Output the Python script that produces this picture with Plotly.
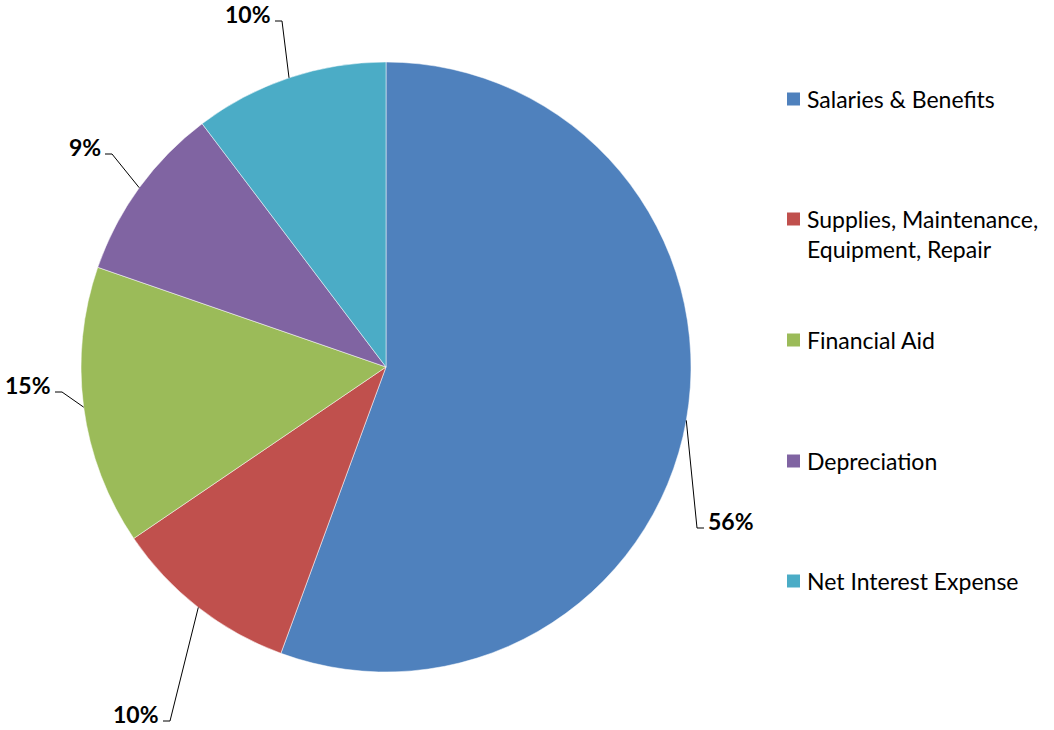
import math
import plotly.graph_objects as go

# ---- data ----
categories = [
    "Salaries & Benefits",
    "Supplies, Maintenance,<br>Equipment, Repair",
    "Financial Aid",
    "Depreciation",
    "Net Interest Expense",
]
values = [55.6, 9.9, 14.8, 9.4, 10.3]
colors = ["#4F81BD", "#C0504D", "#9BBB59", "#8064A2", "#4BACC6"]

# ---- layout constants ----
W, H = 1054, 730
CX, CY, R = 386, 367, 305           # pie centre / radius in pixels
FONT = "Lato"

def px(x):
    return x / W

def py(y):
    return 1 - y / H

fig = go.Figure()
fig.add_trace(go.Pie(
    labels=categories,
    values=values,
    marker=dict(colors=colors, line=dict(color="white", width=0.5)),
    sort=False,
    direction="clockwise",
    rotation=0,
    textinfo="none",
    hoverinfo="label+percent",
    showlegend=False,
    domain=dict(x=[px(CX - R), px(CX + R)], y=[py(CY + R), py(CY - R)]),
))

# ---- data labels with leader lines ----
# elbow point of each leader line (px), and side where the label sits
elbows = [(697, 528, "right"), (170, 721, "left"), (62, 392, "left"),
          (112, 154, "left"), (282, 21, "left")]
tail = 7
total = sum(values)
cum = 0.0
shapes = []
annotations = []
for v, (ex, ey, side) in zip(values, elbows):
    mid = (cum + v / 2) / total * 2 * math.pi
    cum += v
    sx = CX + R * math.sin(mid)
    sy = CY - R * math.cos(mid)
    tx = ex + tail if side == "right" else ex - tail
    shapes.append(dict(
        type="path", xref="paper", yref="paper",
        path=f"M {px(sx)},{py(sy)} L {px(ex)},{py(ey)} L {px(tx)},{py(ey)}",
        line=dict(color="black", width=1),
    ))
    annotations.append(dict(
        x=px(tx + (2 if side == "right" else -2)), y=py(ey - 7),
        xref="paper", yref="paper",
        xanchor="left" if side == "right" else "right", yanchor="middle",
        text=f"<b>{round(v / total * 100)}%</b>", showarrow=False,
        font=dict(family=FONT, size=23, color="black"),
    ))

# ---- legend (drawn manually to match spacing) ----
legend_y = [99, 219, 340, 461, 581]
for cat, col, ly in zip(categories, colors, legend_y):
    shapes.append(dict(
        type="rect", xref="paper", yref="paper",
        x0=px(787), x1=px(800), y0=py(ly + 6.5), y1=py(ly - 6.5),
        fillcolor=col, line=dict(width=0),
    ))
    annotations.append(dict(
        x=px(805), y=py(ly - 16), xref="paper", yref="paper",
        xanchor="left", yanchor="top", align="left",
        text=cat, showarrow=False,
        font=dict(family=FONT, size=23, color="black"),
    ))

fig.update_layout(
    width=W, height=H,
    margin=dict(l=0, r=0, t=0, b=0),
    paper_bgcolor="white", plot_bgcolor="white",
    shapes=shapes, annotations=annotations,
)

fig.write_html("out.html", config={"displayModeBar": False},
               post_script="document.body.style.margin='0';")
